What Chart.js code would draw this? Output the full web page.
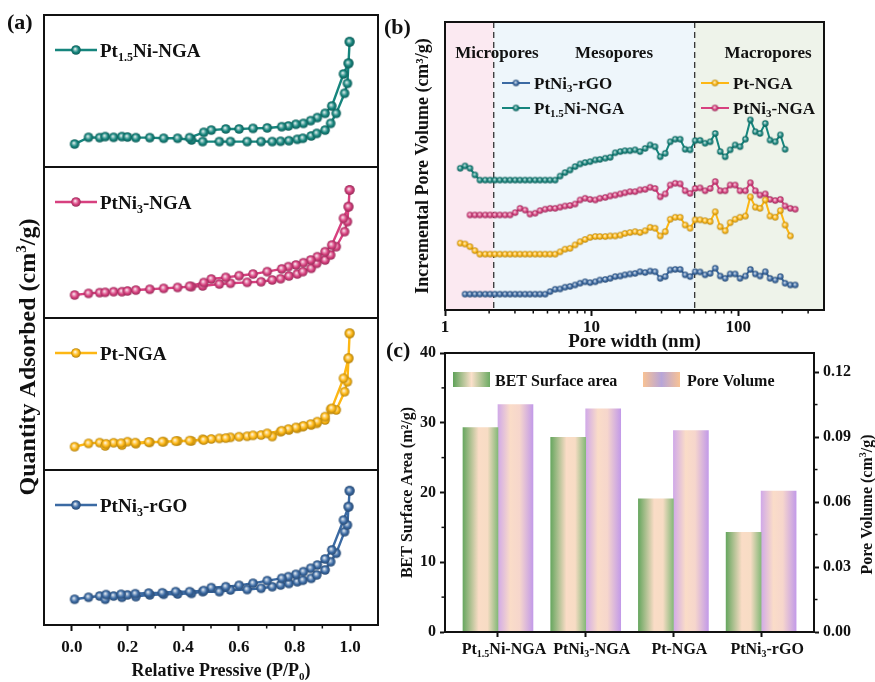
<!DOCTYPE html>
<html>
<head>
<meta charset="utf-8">
<title>N2 isotherms, pore size distribution and BET</title>
<script src="https://cdn.jsdelivr.net/npm/chart.js@4.4.1/dist/chart.umd.min.js"></script>
<style>
  body { margin: 0; background: #fff; }
  #fig { position: relative; width: 875px; height: 682px; background: #fff; }
  #fig canvas { position: absolute; left: 0; top: 0; }
</style>
</head>
<body>
<div id="fig">
  <canvas id="iso0" width="875" height="682"></canvas>
  <canvas id="iso1" width="875" height="682"></canvas>
  <canvas id="iso2" width="875" height="682"></canvas>
  <canvas id="iso3" width="875" height="682"></canvas>
  <canvas id="psd" width="875" height="682"></canvas>
  <canvas id="bet" width="875" height="682"></canvas>
</div>
<script>
// ---------- (a) N2 adsorption / desorption isotherms ----------
const pAds = [0.01, 0.06, 0.10, 0.12, 0.15, 0.18, 0.20, 0.23, 0.28, 0.33, 0.38, 0.43, 0.47, 0.53, 0.57, 0.63,
  0.68, 0.72, 0.75, 0.78, 0.81, 0.83, 0.86, 0.88, 0.91, 0.93, 0.95, 0.98, 0.99, 0.994, 0.998];
const pDes = [0.998, 0.994, 0.976, 0.934, 0.91, 0.882, 0.858, 0.832, 0.805, 0.778, 0.754, 0.702, 0.651, 0.601,
  0.553, 0.501, 0.474, 0.423, 0.373, 0.325, 0.276, 0.228, 0.177, 0.123];

const qAdsPt15Ni = [15.1, 19.5, 19.3, 20.0, 19.5, 20.0, 19.7, 19.3, 19.3, 18.9, 18.9, 17.8, 16.7, 16.7, 16.7, 16.7,
  16.7, 16.7, 16.9, 17.3, 18.2, 18.9, 20.4, 22.1, 24.3, 28.7, 35.3, 48.5, 55.0, 68.2, 82.4];
const qDesPt15Ni = [82.4, 68.2, 61.2, 40.1, 35.3, 32.5, 30.5, 28.7, 28.1, 27.0, 26.5, 25.7, 25.4, 25.0, 25.0, 24.3,
  22.8, 19.3];

const qAdsPtNi3 = [15.2, 16.3, 16.8, 17.0, 17.4, 17.4, 17.9, 18.5, 19.0, 19.6, 20.2, 20.8, 21.2, 22.5, 23.0, 23.6,
  24.0, 25.2, 26.0, 27.8, 29.1, 30.7, 32.9, 36.2, 38.4, 41.7, 47.2, 57.2, 63.8, 73.7, 84.8];
const qDesPtNi3 = [84.8, 73.7, 66.0, 48.3, 43.9, 40.6, 38.4, 36.6, 35.1, 34.0, 32.5, 30.7, 29.1, 28.0, 26.9, 25.8,
  23.5, 21.0];

const qAdsPt = [15.3, 17.5, 18.0, 15.8, 17.9, 16.4, 18.6, 17.3, 18.2, 18.6, 19.1, 19.1, 20.2, 20.8, 21.5, 22.2,
  23.0, 22.0, 25.2, 26.3, 27.4, 28.5, 29.6, 30.7, 32.9, 39.9, 39.5, 51.5, 58.1, 73.5, 89.9];
const qDesPt = [89.9, 73.5, 60.3, 40.5, 35.1, 31.8, 30.2, 29.0, 28.0, 26.9, 25.8, 24.1, 22.8, 21.9, 21.0, 20.4,
  19.7, 19.3, 19.0, 18.6, 18.4, 18.0, 17.6, 17.2];

const qAdsRGO = [16.6, 17.9, 18.7, 16.6, 18.7, 17.9, 19.4, 18.3, 19.4, 19.8, 20.0, 20.4, 21.5, 21.5, 22.6, 22.9,
  23.7, 24.7, 25.8, 26.8, 27.9, 28.9, 30.1, 32.3, 35.5, 40.8, 46.3, 60.2, 64.5, 76.3, 86.6];
const qDesRGO = [86.6, 76.3, 67.7, 48.4, 42.6, 38.7, 36.6, 34.4, 32.7, 31.2, 30.1, 28.6, 26.9, 25.6, 24.7, 24.1,
  22.2, 21.5, 21.5, 20.8, 20.6, 20.2, 19.8, 19.6];

const pressureTicks = [0, 0.2, 0.4, 0.6, 0.8, 1.0];
const pressureMinor = [0.1, 0.3, 0.5, 0.7, 0.9];

// ---------- (b) pore size distribution ----------
const poreWidth = [1.27, 1.37, 1.48, 1.60, 1.73, 1.88, 2.03, 2.19, 2.37, 2.57, 2.78, 3.01, 3.25, 3.52, 3.80, 4.12,
  4.45, 4.82, 5.21, 5.64, 6.10, 6.59, 7.13, 7.72, 8.35, 9.03, 9.77, 10.6, 11.4, 12.4, 13.4, 14.5, 15.7, 16.9, 18.3,
  19.8, 21.4, 23.2, 25.1, 27.1, 29.4, 31.8, 34.4, 37.2, 40.2, 43.5, 47.0, 50.9, 55.0, 59.5, 64.4, 69.7, 75.4, 81.5,
  88.2, 95.4, 103, 112, 121, 131, 141, 153, 165, 179, 194, 209, 227, 245];

const psdRGO = [null, 5.5, 5.5, 5.5, 5.5, 5.5, 5.5, 5.5, 5.5, 5.5, 5.5, 5.5, 5.5, 5.5, 5.5, 5.5, 5.5, 5.5,
  6.4, 7.2, 7.3, 7.9, 8.2, 8.7, 9.3, 9.8, 9.5, 9.8, 10.4, 10.6, 11.0, 11.6, 11.8, 12.2, 12.5, 12.7, 13.3, 13.0,
  13.5, 13.3, 11.0, 11.6, 13.9, 14.1, 14.1, 12.2, 11.6, 13.3, 13.2, 12.2, 12.7, 14.5, 11.8, 11.0, 12.5, 12.5, 11.0,
  11.8, 14.1, 12.5, 11.8, 13.3, 11.0, 10.4, 11.6, 9.3, 8.7, 8.7];
const psdPt = [23.2, 22.9, 22.0, 20.6, 19.4, 19.4, 19.4, 19.4, 19.4, 19.4, 19.4, 19.4, 19.4, 19.4, 19.4, 19.4,
  19.4, 19.4, 19.4, 19.4, 20.2, 21.1, 21.4, 22.6, 23.7, 24.5, 25.2, 25.5, 25.5, 25.5, 25.7, 25.7, 26.0, 26.6, 26.9,
  27.2, 26.9, 27.5, 28.7, 28.4, 25.7, 27.2, 31.5, 32.2, 32.2, 29.5, 28.4, 31.3, 31.3, 31.0, 30.7, 34.1, 28.9, 27.5,
  30.3, 31.5, 32.2, 32.6, 39.3, 35.7, 35.3, 38.2, 32.6, 32.2, 34.5, 29.5, 25.7, null];
const psdPtNi3 = [null, null, 33.0, 33.0, 33.0, 33.0, 33.0, 33.0, 33.0, 33.0, 33.0, 33.8, 35.3, 34.7, 33.3, 33.6,
  34.5, 35.0, 35.3, 35.3, 35.7, 36.1, 36.3, 36.8, 38.2, 38.8, 38.4, 38.2, 38.8, 39.1, 39.6, 39.9, 40.3, 40.7, 41.1,
  41.1, 41.7, 41.9, 42.6, 42.2, 39.3, 40.3, 43.4, 44.0, 43.8, 41.4, 40.5, 42.2, 42.4, 41.4, 42.2, 44.6, 41.4, 41.4,
  43.4, 43.4, 41.4, 41.4, 44.2, 41.4, 39.9, 40.3, 38.4, 38.0, 38.4, 36.1, 35.3, 35.0];
const psdPt15Ni = [49.2, 50.0, 49.2, 46.9, 45.1, 45.1, 45.1, 45.1, 45.1, 45.1, 45.1, 45.1, 45.1, 45.1, 45.1, 45.1,
  45.1, 45.1, 45.1, 45.1, 46.5, 47.7, 48.6, 49.8, 50.7, 51.2, 51.5, 52.1, 52.3, 52.7, 53.0, 54.6, 55.0, 55.3, 55.3,
  55.6, 55.0, 56.1, 57.3, 56.7, 53.2, 54.4, 58.4, 59.3, 59.3, 55.8, 55.6, 58.8, 58.9, 57.9, 58.4, 61.3, 55.0, 53.2,
  55.6, 57.3, 56.7, 59.3, 66.0, 61.9, 61.3, 64.8, 59.0, 58.4, 60.8, 55.8, null, null];

const poreLimits = [2.15, 50.5];
const poreRegionNames = ['Micropores', 'Mesopores', 'Macropores'];
const poreTicks = [1, 10, 100];
const poreMinor = [2, 3, 4, 5, 6, 7, 8, 9, 20, 30, 40, 50, 60, 70, 80, 90, 200, 300];

// ---------- (c) BET surface area and pore volume ----------
const samples = ['Pt_{1.5}Ni-NGA', 'PtNi_{3}-NGA', 'Pt-NGA', 'PtNi_{3}-rGO'];
const betArea = [29.3, 27.9, 19.1, 14.3];
const poreVolume = [0.105, 0.103, 0.093, 0.065];
const areaTicks = [0, 10, 20, 30, 40];
const areaMinor = [5, 15, 25, 35];
const volumeTicks = [0, 0.03, 0.06, 0.09, 0.12];
const volumeMinor = [0.015, 0.045, 0.075, 0.105];

// ---------- styling ----------
const FONT = '"Liberation Serif", "Times New Roman", serif';
const INK = '#111';
const colorPt15Ni = '#16857d';
const colorPtNi3 = '#d7407f';
const colorPt = '#fdb714';
const colorRGO = '#3b6aa3';
const regionFill = ['#fbe9f1', '#eef6fb', '#eef3ea'];
const betStops = [[0, '#68a760'], [0.45, '#fadcc6'], [0.7, '#f7dcc4'], [1, '#86b979']];
const volStops = [[0, '#d1aae8'], [0.35, '#fadcc8'], [0.62, '#f6d6cc'], [1, '#c39be8']];
const betKeyStops = [[0, '#5fa259'], [0.5, '#fbe0cb'], [1, '#6cab63']];
const volKeyStops = [[0, '#f8c294'], [0.5, '#b7a5d8'], [1, '#f8c294']];
const BAR_W = 35;

Chart.defaults.font.family = FONT;
Chart.defaults.font.weight = 'bold';
Chart.defaults.color = INK;

function tint(hex, t) {
  const n = parseInt(hex.slice(1), 16);
  const to = t > 0 ? 255 : 0, k = Math.abs(t);
  const rgb = [n >> 16, (n >> 8) & 255, n & 255].map(v => Math.round(v + (to - v) * k));
  return `rgb(${rgb.join(',')})`;
}

// shaded sphere used as point marker
function ball(color, r) {
  const c = document.createElement('canvas');
  const size = Math.ceil(r * 2) + 2;
  c.width = c.height = size;
  const g = c.getContext('2d');
  const m = size / 2;
  const grad = g.createRadialGradient(m - r * 0.2, m - r * 0.25, 0, m, m, r);
  grad.addColorStop(0, '#ffffff');
  grad.addColorStop(0.28, tint(color, 0.5));
  grad.addColorStop(0.62, color);
  grad.addColorStop(1, tint(color, -0.3));
  g.fillStyle = grad;
  g.beginPath();
  g.arc(m, m, r, 0, Math.PI * 2);
  g.fill();
  return c;
}

// text with _{sub} and ^{sup} parts
function parseRich(str) {
  const parts = [];
  const re = /([_^])\{([^}]*)\}/g;
  let last = 0, m;
  while ((m = re.exec(str))) {
    if (m.index > last) parts.push({ t: str.slice(last, m.index) });
    parts.push({ t: m[2], sub: m[1] === '_', sup: m[1] === '^' });
    last = re.lastIndex;
  }
  if (last < str.length) parts.push({ t: str.slice(last) });
  return parts;
}

function drawRich(ctx, str, x, y, size, align) {
  const parts = parseRich(str);
  const fontFor = p => `bold ${p.sub || p.sup ? Math.round(size * 0.62) : size}px ${FONT}`;
  let width = 0;
  parts.forEach(p => { ctx.font = fontFor(p); p.w = ctx.measureText(p.t).width; width += p.w; });
  let cx = align === 'center' ? x - width / 2 : align === 'right' ? x - width : x;
  ctx.textAlign = 'left';
  ctx.textBaseline = 'alphabetic';
  parts.forEach(p => {
    ctx.font = fontFor(p);
    ctx.fillText(p.t, cx, y + (p.sub ? size * 0.2 : p.sup ? -size * 0.38 : 0));
    cx += p.w;
  });
}

// rotated text reading bottom to top, baseline on x
function drawRichUp(ctx, str, x, y, size) {
  ctx.save();
  ctx.translate(x, y);
  ctx.rotate(-Math.PI / 2);
  drawRich(ctx, str, 0, 0, size, 'center');
  ctx.restore();
}

function legendKey(ctx, x, y, len, color, img, lw) {
  ctx.strokeStyle = color;
  ctx.lineWidth = lw;
  ctx.beginPath();
  ctx.moveTo(x, y);
  ctx.lineTo(x + len, y);
  ctx.stroke();
  ctx.drawImage(img, x + len / 2 - img.width / 2, y - img.height / 2);
}

// short unlabeled ticks between the major ones
function minorTicks(axes) {
  return {
    id: 'minorTicks',
    afterDraw(chart) {
      const ctx = chart.ctx;
      ctx.save();
      ctx.strokeStyle = INK;
      ctx.lineWidth = 1.5;
      Object.keys(axes).forEach(id => {
        const s = chart.scales[id];
        axes[id].forEach(v => {
          const p = s.getPixelForValue(v);
          ctx.beginPath();
          if (s.isHorizontal()) { ctx.moveTo(p, s.top); ctx.lineTo(p, s.top + 3.5); }
          else if (s.position === 'left') { ctx.moveTo(s.right, p); ctx.lineTo(s.right - 3.5, p); }
          else { ctx.moveTo(s.left, p); ctx.lineTo(s.left + 3.5, p); }
          ctx.stroke();
        });
      });
      ctx.restore();
    }
  };
}

const frame = {
  id: 'frame',
  afterDraw(chart) {
    const { ctx, chartArea: a } = chart;
    ctx.save();
    ctx.strokeStyle = INK;
    ctx.lineWidth = 2;
    ctx.strokeRect(a.left, a.top, a.right - a.left, a.bottom - a.top);
    ctx.restore();
  }
};

// ---------- (a) ----------
const isoBands = [[15, 167], [167, 318], [318, 470], [470, 625]];
const isoSeries = [
  { name: 'Pt_{1.5}Ni-NGA', color: colorPt15Ni, ads: qAdsPt15Ni, des: qDesPt15Ni },
  { name: 'PtNi_{3}-NGA', color: colorPtNi3, ads: qAdsPtNi3, des: qDesPtNi3 },
  { name: 'Pt-NGA', color: colorPt, ads: qAdsPt, des: qDesPt },
  { name: 'PtNi_{3}-rGO', color: colorRGO, ads: qAdsRGO, des: qDesRGO }
];

const isoTitles = {
  id: 'isoTitles',
  afterDraw(chart) {
    const ctx = chart.ctx;
    ctx.save();
    ctx.fillStyle = INK;
    drawRich(ctx, '(a)', 7, 29, 22, 'left');
    drawRich(ctx, 'Relative Pressive (P/P_{0})', 221, 676, 18, 'center');
    drawRichUp(ctx, 'Quantity Adsorbed (cm^{3}/g)', 35, 357, 24);
    ctx.restore();
  }
};

isoSeries.forEach((s, i) => {
  const [top, bottom] = isoBands[i];
  const last = i === isoSeries.length - 1;
  const marker = ball(s.color, 4.8);
  const points = pAds.map((p, j) => ({ x: p, y: s.ads[j] }))
    .concat(s.des.map((q, j) => ({ x: pDes[j], y: q })));

  const legend = {
    id: 'isoLegend',
    afterDraw(chart) {
      const { ctx, chartArea: a } = chart;
      const y = a.top + 35;
      ctx.save();
      legendKey(ctx, a.left + 11, y, 42, s.color, marker, 2.5);
      ctx.fillStyle = INK;
      drawRich(ctx, s.name, a.left + 56, y + 6.7, 19, 'left');
      ctx.restore();
    }
  };

  const plugins = [frame, legend];
  if (last) plugins.push(minorTicks({ x: pressureMinor }), isoTitles);

  new Chart(document.getElementById('iso' + i), {
    type: 'line',
    data: {
      datasets: [{
        data: points,
        borderColor: s.color,
        borderWidth: 2.4,
        pointStyle: marker,
        pointRadius: 5,
        tension: 0
      }]
    },
    options: {
      responsive: false,
      animation: false,
      events: [],
      layout: { padding: { left: 44, right: 497, top: top, bottom: last ? 0 : 682 - bottom } },
      plugins: { legend: { display: false }, tooltip: { enabled: false } },
      scales: {
        x: {
          type: 'linear',
          min: -0.1,
          max: 1.1,
          display: last,
          afterBuildTicks: sc => { sc.ticks = pressureTicks.map(v => ({ value: v })); },
          afterFit: sc => { sc.height = last ? 57 : 0; },
          border: { color: INK, width: 2 },
          grid: { drawOnChartArea: false, tickLength: 6, tickWidth: 2, tickColor: INK },
          ticks: { padding: 6, font: { size: 17 }, callback: v => v.toFixed(1) }
        },
        y: { min: 0, max: 100, display: false }
      }
    },
    plugins: plugins
  });
});

// ---------- (b) ----------
const psdSeries = [
  { name: 'PtNi_{3}-rGO', color: colorRGO, values: psdRGO, key: [502, 83], order: 4 },
  { name: 'Pt_{1.5}Ni-NGA', color: colorPt15Ni, values: psdPt15Ni, key: [502, 108], order: 3 },
  { name: 'Pt-NGA', color: colorPt, values: psdPt, key: [701, 83], order: 1 },
  { name: 'PtNi_{3}-NGA', color: colorPtNi3, values: psdPtNi3, key: [701, 108], order: 2 }
];
psdSeries.forEach(s => { s.marker = ball(s.color, 3.2); });

const poreRegions = {
  id: 'poreRegions',
  beforeDatasetsDraw(chart) {
    const { ctx, chartArea: a, scales: { x } } = chart;
    const edges = [x.min, poreLimits[0], poreLimits[1], x.max];
    ctx.save();
    regionFill.forEach((col, i) => {
      const x0 = x.getPixelForValue(edges[i]);
      const x1 = x.getPixelForValue(edges[i + 1]);
      ctx.fillStyle = col;
      ctx.fillRect(x0, a.top, x1 - x0, a.bottom - a.top);
    });
    ctx.setLineDash([6, 4]);
    ctx.strokeStyle = '#333';
    ctx.lineWidth = 1.3;
    poreLimits.forEach(v => {
      const px = x.getPixelForValue(v);
      ctx.beginPath();
      ctx.moveTo(px, a.top);
      ctx.lineTo(px, a.bottom);
      ctx.stroke();
    });
    ctx.restore();
  },
  afterDraw(chart) {
    const ctx = chart.ctx;
    ctx.save();
    ctx.fillStyle = INK;
    [497, 614, 768].forEach((cx, i) => drawRich(ctx, poreRegionNames[i], cx, 58, 17, 'center'));
    psdSeries.forEach(s => {
      const [kx, ky] = s.key;
      legendKey(ctx, kx, ky, 28, s.color, s.marker, 2);
      ctx.fillStyle = INK;
      drawRich(ctx, s.name, kx + 32, ky + 6, 17, 'left');
    });
    drawRich(ctx, '(b)', 384, 34, 22, 'left');
    ctx.restore();
  }
};

new Chart(document.getElementById('psd'), {
  type: 'line',
  data: {
    datasets: psdSeries.map(s => ({
      data: poreWidth.map((w, k) => ({ x: w, y: s.values[k] })),
      borderColor: s.color,
      borderWidth: 2,
      pointStyle: s.marker,
      pointRadius: 3,
      tension: 0,
      order: s.order
    }))
  },
  options: {
    responsive: false,
    animation: false,
    events: [],
    layout: { padding: { left: 400, right: 51, top: 22, bottom: 327 } },
    plugins: { legend: { display: false }, tooltip: { enabled: false } },
    scales: {
      x: {
        type: 'logarithmic',
        min: 1,
        max: 385,
        afterBuildTicks: sc => { sc.ticks = poreTicks.map(v => ({ value: v })); },
        afterFit: sc => { sc.height = 45; },
        border: { color: INK, width: 2 },
        grid: { drawOnChartArea: false, tickLength: 6, tickWidth: 2, tickColor: INK },
        ticks: { padding: 1, font: { size: 17 }, callback: v => String(v) },
        title: { display: true, text: 'Pore width (nm)', font: { size: 19 }, padding: { top: 0, bottom: 2 } }
      },
      y: {
        min: 0,
        max: 100,
        afterFit: sc => { sc.width = 45; },
        grid: { display: false },
        ticks: { display: false },
        border: { color: INK, width: 2 },
        title: { display: true, text: 'Incremental Pore Volume (cm³/g)', font: { size: 18 }, padding: { top: 13, bottom: 0 } }
      }
    }
  },
  plugins: [poreRegions, frame, minorTicks({ x: poreMinor })]
});

// ---------- (c) ----------
function fillStops(g, stops) {
  stops.forEach(([o, c]) => g.addColorStop(o, c));
  return g;
}

// horizontal gradient spanning one bar of the pair
function barGradient(stops, side) {
  return c => {
    const xs = c.chart.scales.x;
    if (!xs || !c.raw) return stops[1][1];
    const center = xs.getPixelForValue(c.raw.x) + side * BAR_W / 2;
    if (!isFinite(center)) return stops[1][1];
    return fillStops(c.chart.ctx.createLinearGradient(center - BAR_W / 2, 0, center + BAR_W / 2, 0), stops);
  };
}

const betDecor = {
  id: 'betDecor',
  afterDraw(chart) {
    const { ctx, chartArea: a, scales: { x } } = chart;
    ctx.save();
    ctx.fillStyle = INK;
    samples.forEach((s, i) => drawRich(ctx, s, x.getPixelForValue(i) + 6, 654, 16, 'center'));
    ctx.fillStyle = fillStops(ctx.createLinearGradient(453, 0, 490, 0), betKeyStops);
    ctx.fillRect(453, 372, 37, 15);
    ctx.fillStyle = fillStops(ctx.createLinearGradient(643, 0, 680, 0), volKeyStops);
    ctx.fillRect(643, 372, 37, 15);
    ctx.fillStyle = INK;
    drawRich(ctx, 'BET Surface area', 495, 386, 16, 'left');
    drawRich(ctx, 'Pore Volume', 687, 386, 16, 'left');
    drawRich(ctx, '(c)', 386, 357, 22, 'left');
    // right axis title reads upward like the left one
    drawRichUp(ctx, 'Pore Volume (cm^{3}/g)', 872, (a.top + a.bottom) / 2 + 12, 16);
    ctx.restore();
  }
};

new Chart(document.getElementById('bet'), {
  type: 'bar',
  data: {
    datasets: [
      {
        label: 'BET Surface area',
        data: betArea.map((v, i) => ({ x: i, y: v })),
        yAxisID: 'y',
        backgroundColor: barGradient(betStops, -1)
      },
      {
        label: 'Pore Volume',
        data: poreVolume.map((v, i) => ({ x: i, y: v })),
        yAxisID: 'y1',
        backgroundColor: barGradient(volStops, 1)
      }
    ]
  },
  options: {
    responsive: false,
    animation: false,
    events: [],
    barThickness: BAR_W,
    layout: { padding: { left: 393, right: 0, top: 353, bottom: 0 } },
    plugins: { legend: { display: false }, tooltip: { enabled: false } },
    scales: {
      x: {
        type: 'linear',
        min: -0.604,
        max: 3.603,
        offset: false,
        afterBuildTicks: sc => { sc.ticks = samples.map((s, i) => ({ value: i })); },
        afterFit: sc => { sc.height = 50; },
        border: { color: INK, width: 2 },
        grid: { drawOnChartArea: false, offset: false, tickLength: 5, tickWidth: 2, tickColor: INK },
        ticks: { display: false }
      },
      y: {
        position: 'left',
        min: 0,
        max: 40,
        afterBuildTicks: sc => { sc.ticks = areaTicks.map(v => ({ value: v })); },
        afterFit: sc => { sc.width = 52; },
        border: { color: INK, width: 2 },
        grid: { drawOnChartArea: false, tickLength: 5, tickWidth: 2, tickColor: INK },
        ticks: { padding: 4, font: { size: 16 } },
        title: { display: true, text: 'BET Surface Area (m²/g)', font: { size: 16 }, padding: { top: 5, bottom: 0 } }
      },
      y1: {
        position: 'right',
        min: 0,
        max: 0.1288,
        afterBuildTicks: sc => { sc.ticks = volumeTicks.map(v => ({ value: v })); },
        afterFit: sc => { sc.width = 61; },
        border: { color: INK, width: 2 },
        grid: { drawOnChartArea: false, tickLength: 5, tickWidth: 2, tickColor: INK },
        ticks: { padding: 4, font: { size: 16 }, callback: v => v.toFixed(2) }
      }
    }
  },
  plugins: [frame, betDecor, minorTicks({ y: areaMinor, y1: volumeMinor })]
});
</script>
</body>
</html>
